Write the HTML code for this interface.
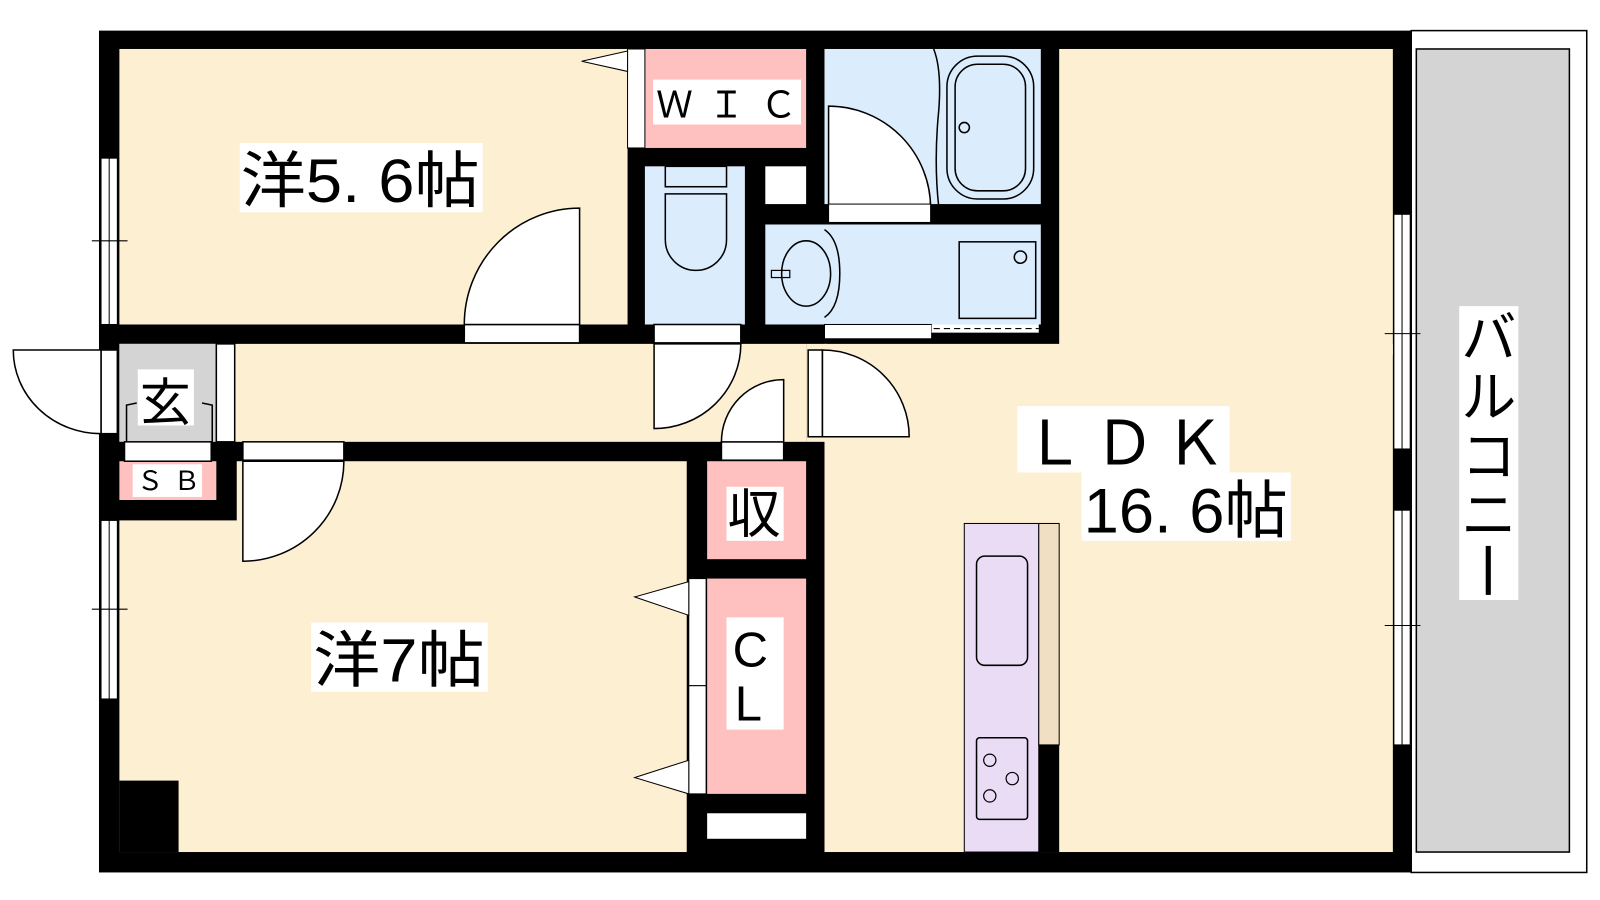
<!DOCTYPE html>
<html><head><meta charset="utf-8"><style>
html,body{margin:0;padding:0;background:#fff;}
svg{display:block;}
text{font-family:"Liberation Sans","Noto Sans CJK JP",sans-serif;fill:#000;}
</style></head><body>
<svg width="1600" height="900" viewBox="0 0 1568 882" preserveAspectRatio="none" xmlns="http://www.w3.org/2000/svg">
<!-- balcony -->
<rect x="1383" y="30" width="172" height="825" fill="#fff" stroke="#000" stroke-width="1.5"/>
<rect x="1388" y="48" width="150" height="787" fill="#d4d4d4" stroke="#000" stroke-width="1.5"/>
<!-- floors -->
<rect x="97" y="30" width="1286" height="825" fill="#000"/>
<rect x="117" y="48" width="498" height="270" fill="#fdf0d2"/>
<rect x="117" y="337" width="673" height="96" fill="#fdf0d2"/>
<rect x="117" y="337" width="95" height="96" fill="#d4d4d4"/>
<rect x="117" y="452" width="556" height="383" fill="#fdf0d2"/>
<rect x="97" y="433" width="135" height="77" fill="#000"/>
<rect x="117" y="765" width="58" height="70" fill="#000"/>
<rect x="808" y="337" width="557" height="498" fill="#fdf0d2"/>
<rect x="1038" y="48" width="327" height="300" fill="#fdf0d2"/>
<rect x="790" y="337" width="20" height="96" fill="#fdf0d2"/>
<!-- WIC -->
<rect x="632" y="48" width="158" height="97" fill="#ffc0c0"/>
<rect x="615" y="48" width="17" height="97" fill="#fff" stroke="#000" stroke-width="1"/>
<polygon points="615,50 570,60 615,70" fill="#fff" stroke="#000" stroke-width="1"/>
<!-- toilet -->
<rect x="632" y="163" width="98" height="155" fill="#dbecfd"/>
<rect x="750" y="163" width="40" height="37" fill="#fff"/>
<rect x="652" y="163" width="60" height="20" fill="none" stroke="#000" stroke-width="1.5"/>
<path d="M652,190 h60 v45 a30,30 0 0 1 -60,0 z" fill="none" stroke="#000" stroke-width="1.5"/>
<!-- wash -->
<rect x="750" y="220" width="270" height="98" fill="#dbecfd"/>
<rect x="808" y="48" width="212" height="152" fill="#dbecfd"/>
<rect x="928" y="55" width="85" height="140" rx="30" fill="none" stroke="#000" stroke-width="1.5"/>
<rect x="936" y="63" width="69" height="124" rx="22" fill="none" stroke="#000" stroke-width="1.5"/>
<circle cx="945" cy="125" r="5" fill="none" stroke="#000" stroke-width="1.5"/>
<path d="M812,205 V104 A100,100 0 0 1 912,204" fill="#fff" stroke="#000" stroke-width="1.5"/>
<rect x="812" y="200" width="100" height="18" fill="#fff" stroke="#000" stroke-width="1"/>
<path d="M915,48 q8,20 5,60 q-5,50 0,95" fill="none" stroke="#000" stroke-width="1.5"/>
<ellipse cx="790" cy="268" rx="24" ry="32" fill="none" stroke="#000" stroke-width="1.5"/>
<rect x="756" y="265" width="18" height="7" fill="none" stroke="#000" stroke-width="1.2"/>
<path d="M808,225 q15,10 15,43 q0,33 -15,43" fill="none" stroke="#000" stroke-width="1.5"/>
<rect x="940" y="237" width="75" height="75" fill="none" stroke="#000" stroke-width="1.5"/>
<circle cx="1000" cy="252" r="6" fill="none" stroke="#000" stroke-width="1.5"/>
<rect x="808" y="318" width="105" height="14" fill="#fff" stroke="#000" stroke-width="1"/>
<rect x="913" y="318" width="105" height="8" fill="#fff"/>
<line x1="915" y1="322" x2="1018" y2="322" stroke="#000" stroke-width="1" stroke-dasharray="6,4"/>
<!-- storage -->
<rect x="693" y="452" width="97" height="96" fill="#ffc0c0"/>
<rect x="693" y="567" width="97" height="211" fill="#ffc0c0"/>
<rect x="675" y="567" width="17" height="105" fill="#fff" stroke="#000" stroke-width="1"/>
<rect x="675" y="672" width="17" height="106" fill="#fff" stroke="#000" stroke-width="1"/>
<polygon points="675,570 622,585 675,603" fill="#fff" stroke="#000" stroke-width="1"/>
<polygon points="675,745 622,762 675,778" fill="#fff" stroke="#000" stroke-width="1"/>
<rect x="693" y="797" width="97" height="25" fill="#fff"/>
<!-- SB -->
<rect x="117" y="452" width="95" height="38" fill="#ffc0c0"/>
<!-- kitchen -->
<rect x="945" y="513" width="73" height="322" fill="#eadcf5" stroke="#000" stroke-width="1"/>
<rect x="1018" y="513" width="20" height="217" fill="#f0dfc2" stroke="#000" stroke-width="1"/>
<rect x="1018" y="730" width="20" height="105" fill="#000"/>
<rect x="957" y="545" width="50" height="107" rx="8" fill="none" stroke="#000" stroke-width="1.5"/>
<rect x="957" y="723" width="50" height="80" rx="3" fill="none" stroke="#000" stroke-width="1.5"/>
<circle cx="970" cy="745" r="6" fill="none" stroke="#000" stroke-width="1.2"/>
<circle cx="992" cy="763" r="6" fill="none" stroke="#000" stroke-width="1.2"/>
<circle cx="970" cy="780" r="6" fill="none" stroke="#000" stroke-width="1.2"/>
<!-- windows -->
<g fill="#fff" stroke="#000" stroke-width="1">
<rect x="99" y="155" width="16" height="163"/>
<rect x="99" y="510" width="16" height="175"/>
<rect x="1366" y="210" width="16" height="230"/>
<rect x="1366" y="500" width="16" height="230"/>
</g>
<g stroke="#000" stroke-width="1">
<line x1="107" y1="155" x2="107" y2="318"/><line x1="107" y1="510" x2="107" y2="685"/>
<line x1="1374" y1="210" x2="1374" y2="440"/><line x1="1374" y1="500" x2="1374" y2="730"/>
<line x1="90" y1="236" x2="125" y2="236"/><line x1="90" y1="597" x2="125" y2="597"/>
<line x1="1357" y1="327" x2="1392" y2="327"/><line x1="1357" y1="613" x2="1392" y2="613"/>
</g>
<!-- doors -->
<g fill="#fff" stroke="#000" stroke-width="1.5">
<rect x="455" y="318" width="113" height="18"/>
<path d="M568,318 V204 A113,114 0 0 0 455,318 Z"/>
<rect x="641" y="318" width="85" height="18"/>
<path d="M641,337 V420 A85,83 0 0 0 726,337 Z"/>
<rect x="707" y="433" width="61" height="18"/>
<path d="M768,433 V372 A61,61 0 0 0 707,433 Z"/>
<rect x="792" y="343" width="14" height="85"/>
<path d="M806,343 A85,85 0 0 1 891,428 H806 Z"/>
<rect x="238" y="433" width="99" height="18"/>
<path d="M238,452 V550 A99,98 0 0 0 337,452 Z"/>
<rect x="99" y="343" width="16" height="82"/>
<path d="M99,343 H13 A86,82 0 0 0 99,425 Z"/>
<rect x="212" y="337" width="18" height="96"/>
<rect x="122" y="433" width="85" height="19"/>
<path d="M124,433 V397 l10,-2 M208,433 V397 l-10,-2" fill="none"/>
</g>
<!-- labels -->
<g fill="#fff">
<rect x="235" y="140" width="238" height="68"/>
<rect x="305" y="610" width="173" height="68"/>
<rect x="640" y="78" width="145" height="44"/>
<rect x="712" y="477" width="56" height="53"/>
<rect x="712" y="605" width="56" height="110"/>
<rect x="135" y="362" width="55" height="55"/>
<rect x="130" y="455" width="68" height="32"/>
<rect x="997" y="398" width="208" height="65"/>
<rect x="1060" y="463" width="205" height="67"/>
<rect x="1430" y="300" width="58" height="288"/>
</g>
<text x="236" y="198" font-size="60" textLength="234" lengthAdjust="spacingAndGlyphs">洋5. 6帖</text>
<text x="307" y="668" font-size="60" textLength="168" lengthAdjust="spacingAndGlyphs">洋7帖</text>
<text x="643" y="115" font-size="36" textLength="138" lengthAdjust="spacing">ＷＩＣ</text>
<text x="713" y="522" font-size="52">収</text>
<text x="718" y="653" font-size="48">C</text>
<text x="720" y="706" font-size="48">L</text>
<text x="137" y="412" font-size="50">玄</text>
<text x="134" y="480" font-size="26" textLength="62" lengthAdjust="spacing">ＳＢ</text>
<text x="1003" y="455" font-size="60" textLength="198" lengthAdjust="spacing">ＬＤＫ</text>
<text x="1062" y="522" font-size="62" textLength="200" lengthAdjust="spacingAndGlyphs">16. 6帖</text>
<g font-size="54">
<text x="1432" y="350">バ</text>
<text x="1432" y="408">ル</text>
<text x="1432" y="466">コ</text>
<text x="1432" y="524">ニ</text>
</g>
<rect x="1456" y="535" width="5" height="48" fill="#000"/>
</svg>
</body></html>
